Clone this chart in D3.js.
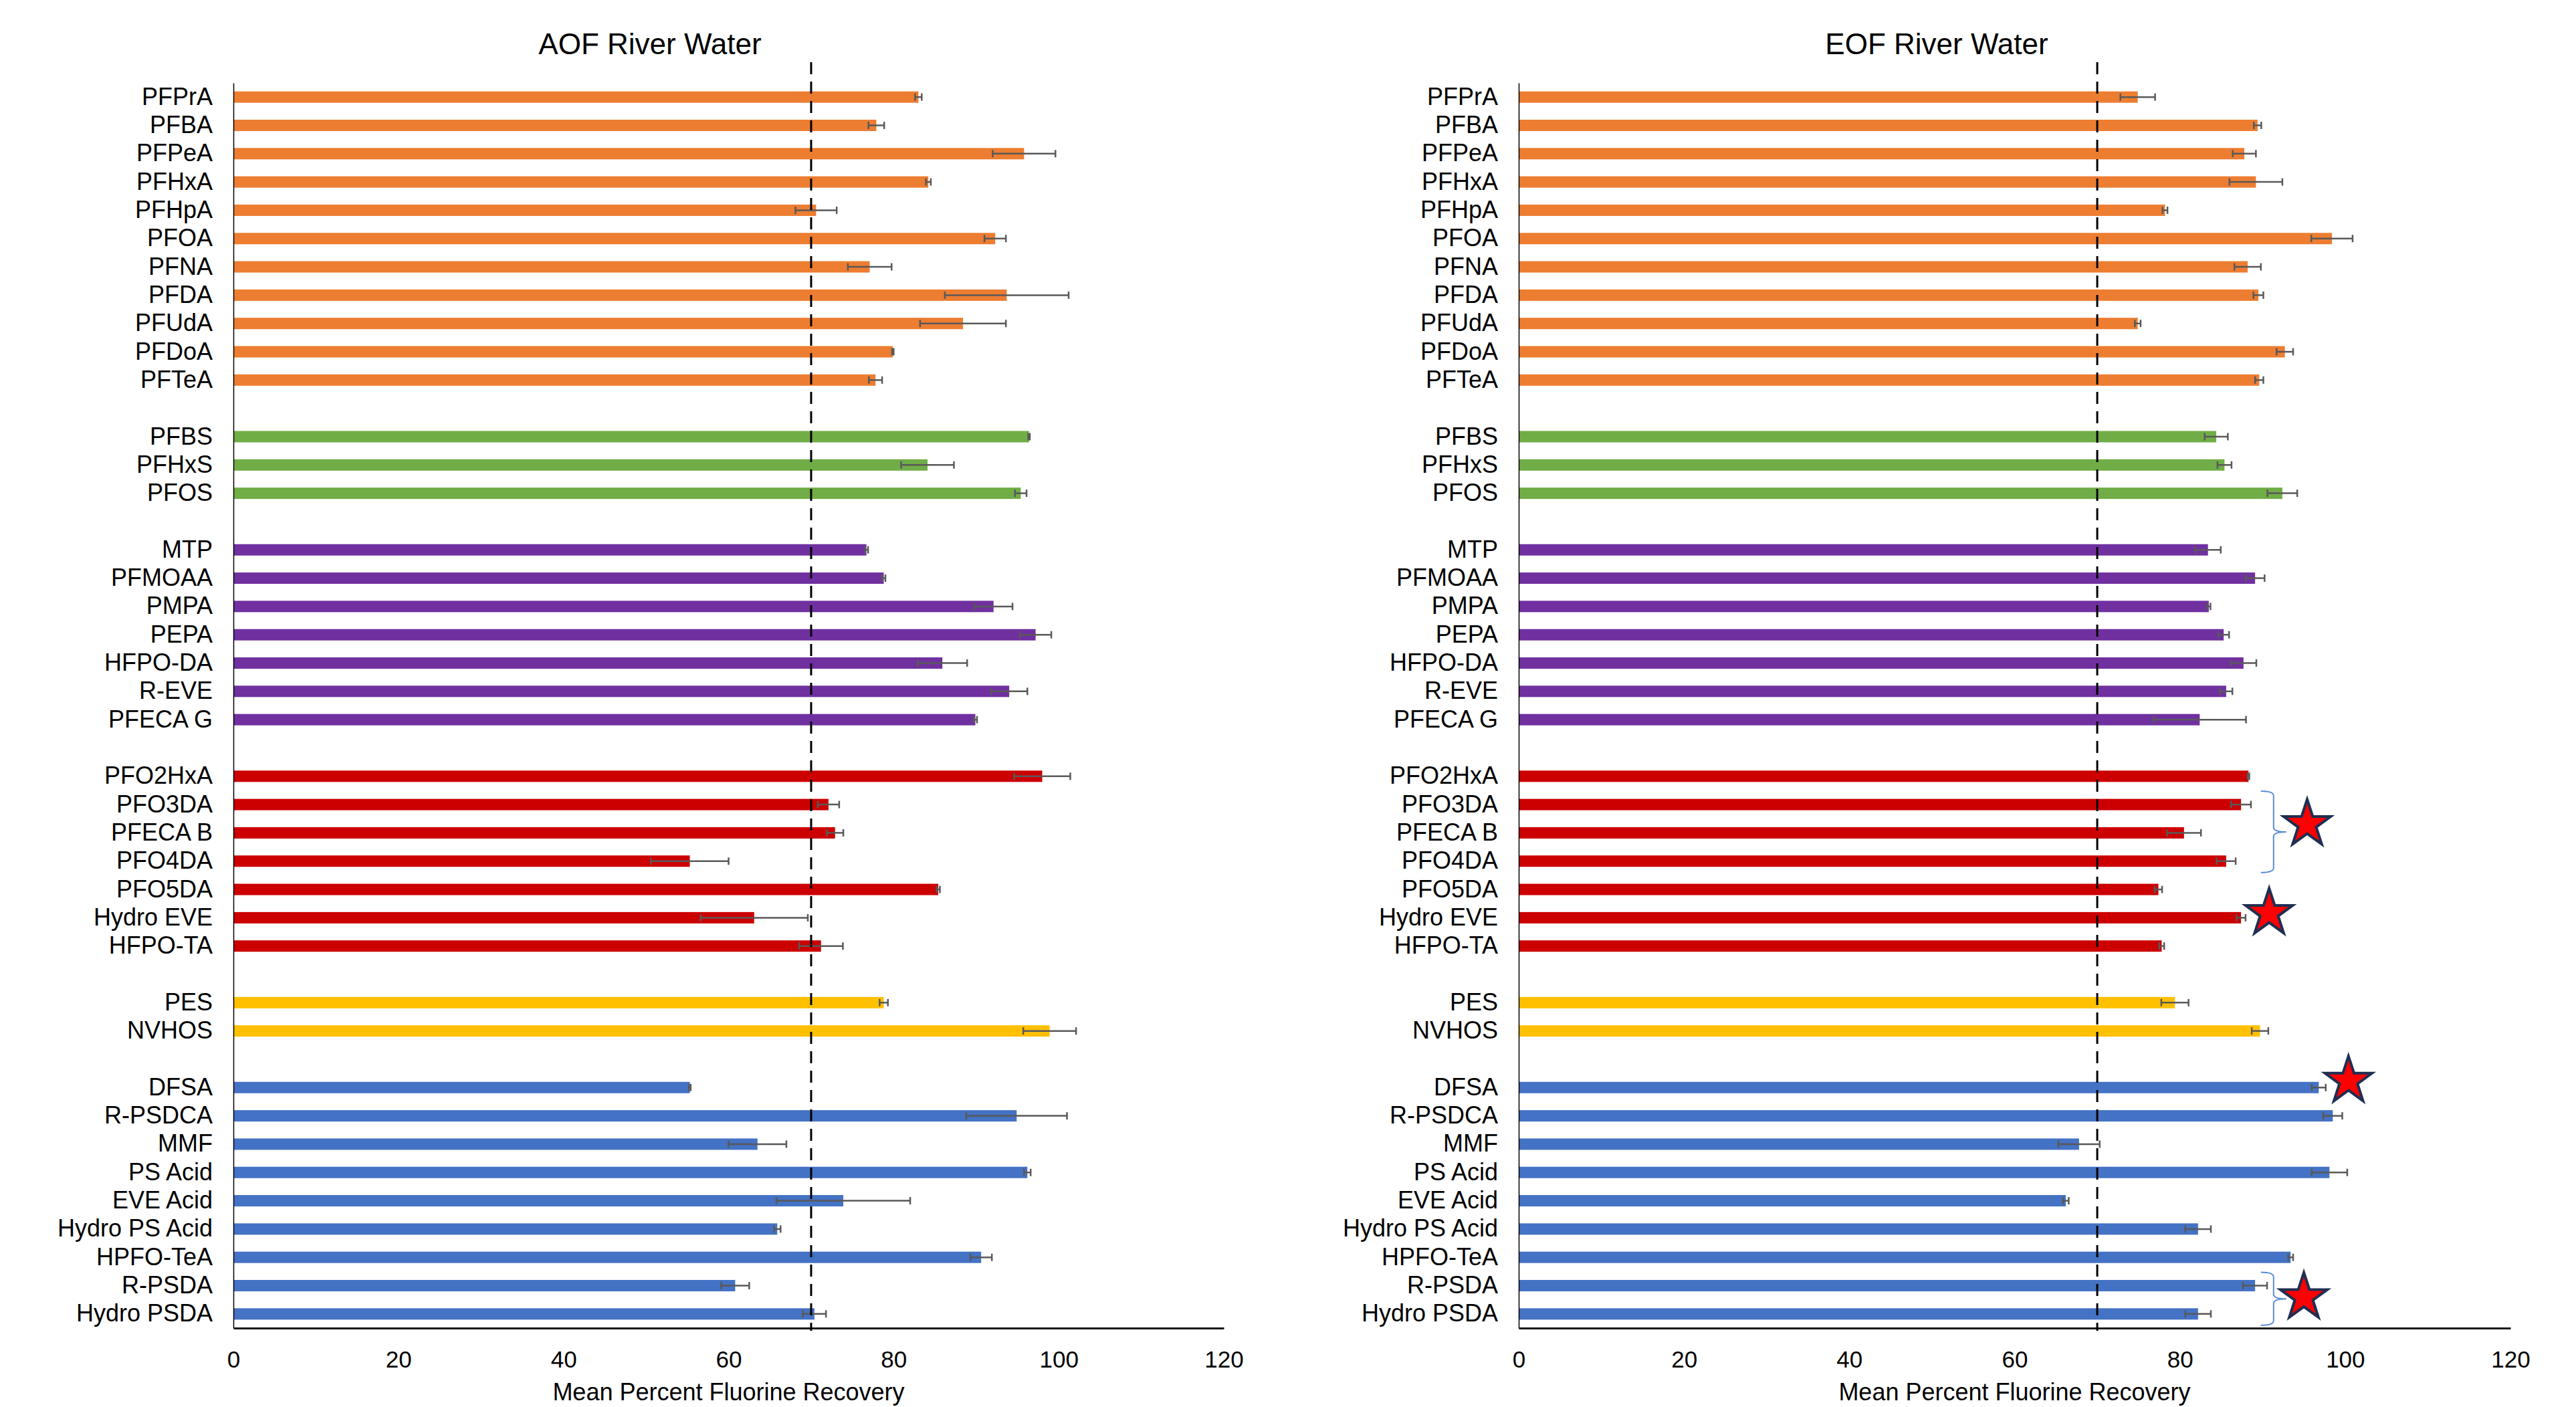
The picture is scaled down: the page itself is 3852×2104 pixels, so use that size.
<!DOCTYPE html>
<html>
<head>
<meta charset="utf-8">
<script src="https://cdn.jsdelivr.net/npm/d3@7"></script>
<style>
  html, body { margin: 0; padding: 0; background: #ffffff; }
  svg { display: block; }
  text { font-family: "Liberation Sans", Arial, Helvetica, sans-serif; fill: #000; }
</style>
</head>
<body>
<svg id="chart" width="3852" height="2104"></svg>
<script>
// ---------------- DATA ----------------
const groupColors = ["#ED7D31", "#70AD47", "#7030A0", "#CC0000", "#FFC000", "#4472C4"];
const groupMembers = [
  ["PFPrA", "PFBA", "PFPeA", "PFHxA", "PFHpA", "PFOA", "PFNA", "PFDA", "PFUdA", "PFDoA", "PFTeA"],
  ["PFBS", "PFHxS", "PFOS"],
  ["MTP", "PFMOAA", "PMPA", "PEPA", "HFPO-DA", "R-EVE", "PFECA G"],
  ["PFO2HxA", "PFO3DA", "PFECA B", "PFO4DA", "PFO5DA", "Hydro EVE", "HFPO-TA"],
  ["PES", "NVHOS"],
  ["DFSA", "R-PSDCA", "MMF", "PS Acid", "EVE Acid", "Hydro PS Acid", "HPFO-TeA", "R-PSDA", "Hydro PSDA"]
];
// AOF River Water (mean, error)
const aofMean = [83.0, 77.9, 95.8, 84.2, 70.6, 92.3, 77.1, 93.7, 88.4, 79.9, 77.8,
                 96.4, 84.1, 95.4,
                 76.7, 78.8, 92.1, 97.2, 85.9, 94.0, 89.9,
                 98.0, 72.1, 72.9, 55.3, 85.4, 63.1, 71.2,
                 78.8, 98.9,
                 55.3, 94.9, 63.5, 96.2, 73.9, 65.9, 90.6, 60.8, 70.4];
const aofErr  = [0.4, 0.95, 3.8, 0.3, 2.5, 1.3, 2.65, 7.5, 5.2, 0.1, 0.8,
                 0.1, 3.2, 0.7,
                 0.2, 0.2, 2.3, 1.9, 3.0, 2.2, 0.2,
                 3.4, 1.3, 1.0, 4.7, 0.2, 6.5, 2.65,
                 0.5, 3.2,
                 0.1, 6.1, 3.5, 0.4, 8.1, 0.4, 1.3, 1.7, 1.4];
// EOF River Water (mean, error)
const eofMean = [74.9, 89.4, 87.8, 89.2, 78.2, 98.4, 88.2, 89.5, 74.9, 92.7, 89.6,
                 84.4, 85.4, 92.4,
                 83.4, 89.1, 83.5, 85.3, 87.7, 85.6, 82.4,
                 88.3, 87.4, 80.5, 85.6, 77.4, 87.4, 77.8,
                 79.4, 89.7,
                 96.8, 98.5, 67.8, 98.1, 66.2, 82.2, 93.4, 89.1, 82.2];
const eofErr  = [2.1, 0.45, 1.4, 3.2, 0.3, 2.5, 1.6, 0.6, 0.35, 1.0, 0.5,
                 1.4, 0.85, 1.8,
                 1.55, 1.15, 0.2, 0.65, 1.55, 0.75, 5.6,
                 0.1, 1.2, 2.05, 1.15, 0.45, 0.55, 0.3,
                 1.65, 1.0,
                 0.85, 1.15, 2.5, 2.15, 0.35, 1.55, 0.3, 1.45, 1.55];
const xTicks = [0, 20, 40, 60, 80, 100, 120];
const xMax = 120;
const refLine = 70;
const panelTitles = ["AOF River Water", "EOF River Water"];
const xAxisTitle = "Mean Percent Fluorine Recovery";
// significance annotations on the EOF panel
const braces = [
  { from: "PFO3DA", to: "PFO4DA", x: 89.8 },
  { from: "R-PSDA", to: "Hydro PSDA", x: 89.8 }
];
const stars = [
  { cat: "PFECA B", x: 95.4, dy: -13 },
  { cat: "Hydro EVE", x: 90.8, dy: -7 },
  { cat: "DFSA", x: 100.4, dy: -10 },
  { cat: "Hydro PSDA", x: 95.0, dy: -25 }
];

// ---------------- BUILD ROWS ----------------
const rows = [];   // band domain keys (including gap rows)
const items = [];  // {name, color, idx}
let k = 0;
groupMembers.forEach((g, gi) => {
  if (gi > 0) rows.push("__gap" + gi);
  g.forEach(name => {
    rows.push(name);
    items.push({ name, color: groupColors[gi], idx: k++ });
  });
});

const svg = d3.select("#chart");
const yTop = 124, yBottom = 1986;
const y = d3.scaleBand().domain(rows).range([yTop, yBottom]).paddingInner(0).paddingOuter(0);
const barH = 17;

const panels = [
  { x0: 349, x1: 1830, mean: aofMean, err: aofErr, title: panelTitles[0], titleX: 972 },
  { x0: 2271, x1: 3754, mean: eofMean, err: eofErr, title: panelTitles[1], titleX: 2896 }
];

panels.forEach((p, pi) => {
  const x = d3.scaleLinear().domain([0, xMax]).range([p.x0, p.x1]);
  const g = svg.append("g");

  // title
  g.append("text")
    .attr("x", p.titleX).attr("y", 81)
    .attr("text-anchor", "middle")
    .style("font-size", "44px")
    .text(p.title);

  // bars
  g.append("g").selectAll("rect")
    .data(items).join("rect")
    .attr("x", x(0))
    .attr("y", d => y(d.name) + y.bandwidth() / 2 - barH / 2)
    .attr("width", d => x(p.mean[d.idx]) - x(0))
    .attr("height", barH)
    .attr("fill", d => d.color);

  // error bars
  const eb = g.append("g").attr("stroke", "#595959").attr("stroke-width", 2.5).attr("fill", "none");
  items.forEach(d => {
    const cy = y(d.name) + y.bandwidth() / 2;
    const lo = x(p.mean[d.idx] - p.err[d.idx]);
    const hi = x(p.mean[d.idx] + p.err[d.idx]);
    eb.append("line").attr("x1", lo).attr("x2", hi).attr("y1", cy).attr("y2", cy);
    eb.append("line").attr("x1", lo).attr("x2", lo).attr("y1", cy - 5.5).attr("y2", cy + 5.5);
    eb.append("line").attr("x1", hi).attr("x2", hi).attr("y1", cy - 5.5).attr("y2", cy + 5.5);
  });

  // left axis (category labels)
  const yAxis = d3.axisLeft(y)
    .tickSize(0).tickSizeOuter(0).tickPadding(31)
    .tickFormat(d => d.startsWith("__gap") ? "" : d);
  const ya = g.append("g").attr("transform", `translate(${x(0)},0)`).call(yAxis);
  ya.select(".domain").attr("stroke", "#000").attr("stroke-width", 1.5);
  ya.selectAll("text").style("font-size", "36px").style("font-family", '"Liberation Sans", Arial, sans-serif').attr("fill", "#000");

  // bottom axis
  const xAxis = d3.axisBottom(x).tickValues(xTicks).tickSize(0).tickSizeOuter(0);
  const xa = g.append("g").attr("transform", `translate(0,${yBottom})`).call(xAxis);
  xa.select(".domain").attr("stroke", "#1a1a1a").attr("stroke-width", 3);
  xa.selectAll("text")
    .attr("y", 59).attr("dy", null)
    .style("font-size", "35px").style("font-family", '"Liberation Sans", Arial, sans-serif').attr("fill", "#000");

  // x axis title
  g.append("text")
    .attr("x", (p.x0 + p.x1) / 2).attr("y", 2094)
    .attr("text-anchor", "middle")
    .style("font-size", "36px")
    .text(xAxisTitle);

  // reference dashed line
  g.append("line")
    .attr("x1", x(refLine)).attr("x2", x(refLine))
    .attr("y1", 93).attr("y2", 1990)
    .attr("stroke", "#000").attr("stroke-width", 3)
    .attr("stroke-dasharray", "18,11");

  // annotations on EOF panel
  if (pi === 1) {
    braces.forEach(b => {
      const yT = y(b.from) + y.bandwidth() / 2 - 20;
      const yB = y(b.to) + y.bandwidth() / 2 + 17;
      const yM = (yT + yB) / 2;
      const x0 = x(b.x), xs = x0 + 19, xt = x0 + 38, r = 7;
      const path = `M${x0},${yT} Q${xs},${yT} ${xs},${yT + r} L${xs},${yM - r} Q${xs},${yM} ${xt},${yM} ` +
                   `M${xt},${yM} Q${xs},${yM} ${xs},${yM + r} L${xs},${yB - r} Q${xs},${yB} ${x0},${yB}`;
      g.append("path").attr("d", path)
        .attr("fill", "none").attr("stroke", "#5B8BD6").attr("stroke-width", 2);
    });
    const R = 37, rIn = 14.2;
    stars.forEach(s => {
      const cx = x(s.x), cy = y(s.cat) + y.bandwidth() / 2 + s.dy;
      const pts = d3.range(10).map(i => {
        const a = -Math.PI / 2 + i * Math.PI / 5;
        const rr = i % 2 === 0 ? R : rIn;
        return [cx + rr * Math.cos(a), cy + rr * Math.sin(a)];
      });
      g.append("path").attr("d", "M" + pts.map(q => q.join(",")).join("L") + "Z")
        .attr("fill", "#FF0000").attr("stroke", "#1F2F52").attr("stroke-width", 4)
        .attr("stroke-linejoin", "miter");
    });
  }
});
</script>
</body>
</html>
